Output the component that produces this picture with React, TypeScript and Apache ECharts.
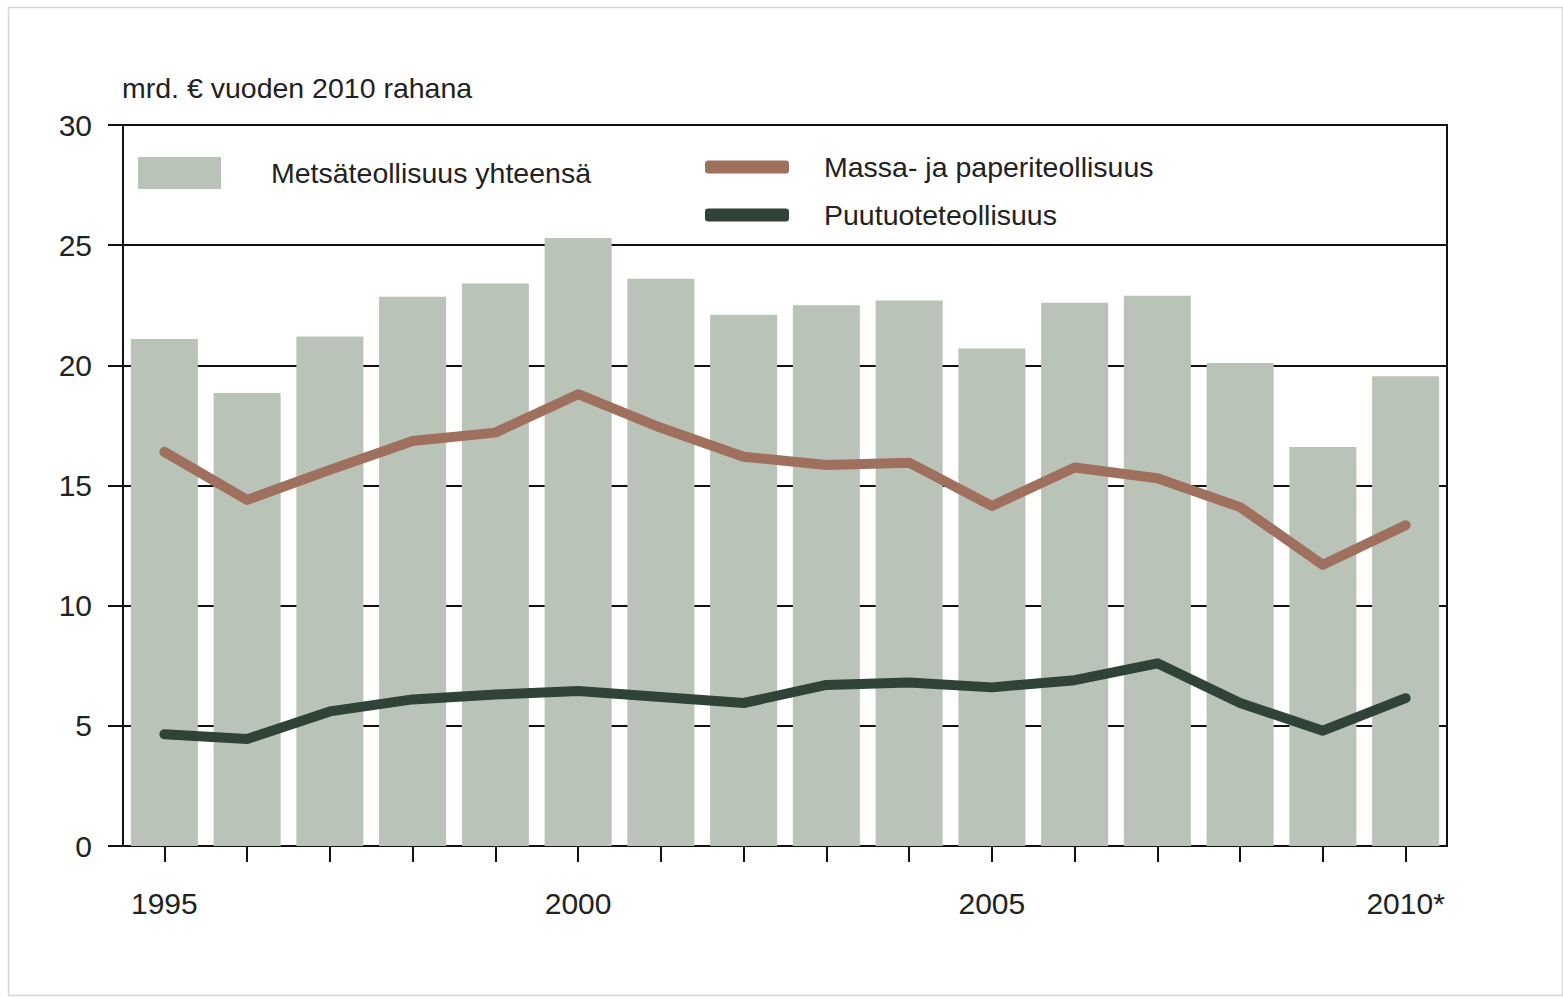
import React, { useEffect, useRef } from "react";
import * as echarts from "echarts";

const years = ["1995","1996","1997","1998","1999","2000","2001","2002","2003","2004","2005","2006","2007","2008","2009","2010*"];
const totalForest = [21.1, 18.85, 21.2, 22.85, 23.4, 25.3, 23.6, 22.1, 22.5, 22.7, 20.7, 22.6, 22.9, 20.1, 16.6, 19.55];
const pulpPaper = [16.4, 14.4, 15.65, 16.85, 17.2, 18.8, 17.4, 16.2, 15.85, 15.95, 14.15, 15.75, 15.3, 14.1, 11.7, 13.35];
const woodProducts = [4.65, 4.45, 5.6, 6.1, 6.3, 6.45, 6.2, 5.95, 6.7, 6.8, 6.6, 6.9, 7.6, 5.95, 4.8, 6.15];
const shownYearLabels = ["1995", "2000", "2005", "2010*"];

const FONT = "'Liberation Sans Narrow', 'Arial Narrow', 'Liberation Sans', Arial, sans-serif";

export default function App() {
  const ref = useRef<HTMLDivElement>(null);
  useEffect(() => {
    if (!ref.current) return;
    const chart = echarts.init(ref.current, null, { renderer: "svg" });
    chart.setOption({
      animation: false,
      backgroundColor: "#ffffff",
      textStyle: { fontFamily: FONT },
      title: {
        text: "mrd. € vuoden 2010 rahana",
        left: 117,
        top: 68,
        textStyle: { fontFamily: FONT, fontSize: 28.5, fontWeight: "normal", color: "#222" },
      },
      graphic: [
        {
          type: "rect",
          shape: { x: 8.5, y: 7.5, width: 1554, height: 988 },
          style: { fill: "none", stroke: "#d6d6d6", lineWidth: 1.5 },
          silent: true,
        },
      ],
      legend: [
        {
          data: ["Metsäteollisuus yhteensä"],
          left: 138,
          top: 157,
          padding: 0,
          itemWidth: 83,
          itemHeight: 32,
          itemGap: 0,
          icon: "rect",
          textStyle: { fontFamily: FONT, fontSize: 28.5, color: "#222", padding: [12, 0, 0, 45] },
          selectedMode: false,
        },
        {
          data: ["Massa- ja paperiteollisuus", "Puutuoteteollisuus"],
          orient: "vertical",
          left: 705,
          top: 150,
          padding: 0,
          itemWidth: 84,
          itemHeight: 13,
          itemGap: 14,
          icon: "roundRect",
          textStyle: { fontFamily: FONT, fontSize: 28.5, color: "#222", lineHeight: 34, padding: [0, 0, 0, 30] },
          selectedMode: false,
        },
      ],
      grid: {
        left: 123,
        top: 125,
        right: 116,
        bottom: 153,
        show: true,
        borderColor: "#111",
        borderWidth: 2,
        backgroundColor: "transparent",
      },
      xAxis: {
        type: "category",
        data: years,
        boundaryGap: true,
        axisLine: { show: true, lineStyle: { color: "#111", width: 2 } },
        axisTick: { show: true, alignWithLabel: true, interval: 0, length: 16, lineStyle: { color: "#111", width: 2 } },
        axisLabel: {
          interval: 0,
          margin: 42,
          fontSize: 30,
          fontFamily: FONT,
          color: "#222",
          formatter: (v: string) => (shownYearLabels.includes(v) ? v : ""),
        },
        splitLine: { show: false },
      },
      yAxis: {
        type: "value",
        min: 0,
        max: 30,
        interval: 5,
        axisLine: { show: true, lineStyle: { color: "#111", width: 2 } },
        axisTick: { show: true, inside: false, length: 15, lineStyle: { color: "#111", width: 2 } },
        axisLabel: { margin: 31, fontSize: 30, fontFamily: FONT, color: "#222" },
        splitLine: { show: true, lineStyle: { color: "#111", width: 2 } },
      },
      series: [
        {
          name: "Metsäteollisuus yhteensä",
          type: "bar",
          data: totalForest,
          barCategoryGap: "19%",
          itemStyle: { color: "#bac3b8" },
          z: 2,
        },
        {
          name: "Massa- ja paperiteollisuus",
          type: "line",
          data: pulpPaper,
          symbol: "none",
          lineStyle: { color: "#a0705f", width: 10, cap: "round", join: "round" },
          itemStyle: { color: "#a0705f" },
          z: 3,
        },
        {
          name: "Puutuoteteollisuus",
          type: "line",
          data: woodProducts,
          symbol: "none",
          lineStyle: { color: "#2f4338", width: 10, cap: "round", join: "round" },
          itemStyle: { color: "#2f4338" },
          z: 3,
        },
      ],
    });
    return () => chart.dispose();
  }, []);
  return (
    <div
      ref={ref}
      style={{ position: "absolute", left: 0, top: 0, width: 1563, height: 999 }}
    />
  );
}
